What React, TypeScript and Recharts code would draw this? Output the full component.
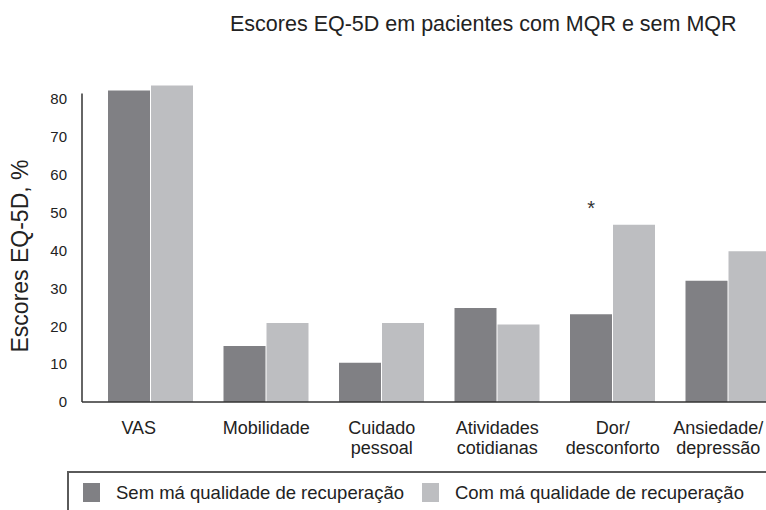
import React from 'react';
import { BarChart, Bar, XAxis, YAxis, Legend, ReferenceLine, ReferenceDot, Label } from 'recharts';

const categories = ['VAS', 'Mobilidade', 'Cuidado\npessoal', 'Atividades\ncotidianas', 'Dor/\ndesconforto', 'Ansiedade/\ndepressão'];
const semMQR = [82.3, 14.8, 10.4, 24.8, 23.2, 32.0];
const comMQR = [83.6, 20.9, 20.9, 20.5, 46.8, 39.8];
const seriesNames = ['Sem má qualidade de recuperação', 'Com má qualidade de recuperação'];
const yTicks = [0, 10, 20, 30, 40, 50, 60, 70, 80];
const title = 'Escores EQ-5D em pacientes com MQR e sem MQR';
const yLabel = 'Escores EQ-5D, %';
const starCategory = 'Dor/\ndesconforto';
const starLevel = 52;
const yAxisTop = 81.5;

const DARK = '#808084';
const LIGHT = '#bdbec1';
const INK = '#222';
const FONT = '"Liberation Sans", Arial, Helvetica, sans-serif';

// the original nudges its first and last category labels
const labelShift = [-12, 0, 0, 0, 0, -10];

const data = categories.map((cat, i) => ({ cat, sem: semMQR[i], com: comMQR[i] }));

const CategoryTick = (props: any) => {
  const { x, y, payload, index } = props;
  const lines = String(payload.value).split('\n');
  const tx = x + (labelShift[index] || 0);
  return (
    <text x={tx} y={y} textAnchor="middle" fill={INK} fontSize={18}>
      {lines.map((l, i) => (
        <tspan key={i} x={tx} dy={i === 0 ? 0 : 20}>{l}</tspan>
      ))}
    </text>
  );
};

const renderLegend = (props: any) => {
  const items = [...(props.payload || [])].sort(
    (a: any, b: any) => seriesNames.indexOf(a.value) - seriesNames.indexOf(b.value)
  );
  return (
    <div style={{
      borderTop: '2px solid #5a5a5a', borderLeft: '2px solid #5a5a5a', height: 60,
      boxSizing: 'border-box', display: 'flex', alignItems: 'flex-start', paddingLeft: 14, paddingTop: 10,
    }}>
      {items.map((entry: any, i: number) => (
        <div key={i} style={{ display: 'flex', alignItems: 'center', marginRight: 18 }}>
          <span style={{ display: 'inline-block', width: 17, height: 19, background: entry.color, marginRight: 16 }} />
          <span style={{ fontSize: 18.5, color: INK, lineHeight: '19px', whiteSpace: 'nowrap' }}>{entry.value}</span>
        </div>
      ))}
    </div>
  );
};

export default function App() {
  return (
    <div style={{ position: 'absolute', left: 0, top: 0, width: 766, height: 510, overflow: 'hidden', fontFamily: FONT, background: '#fff' }}>
      <div style={{ position: 'absolute', left: 230, top: 14, fontSize: 21.5, lineHeight: '21px', color: INK, whiteSpace: 'nowrap' }}>
        {title}
      </div>
      <BarChart width={800} height={510} data={data} barGap={1} margin={{ top: 84, right: 14, left: 42, bottom: 48 }}>
        <XAxis
          dataKey="cat"
          height={60}
          interval={0}
          tickLine={false}
          tickMargin={26}
          axisLine={{ stroke: '#333', strokeWidth: 1.5 }}
          padding={{ left: 11, right: 0 }}
          tick={<CategoryTick />}
        />
        <XAxis xAxisId="frame" type="number" domain={[0, 1]} allowDataOverflow hide />
        <YAxis
          domain={[0, 84]}
          ticks={yTicks}
          width={40}
          axisLine={false}
          tickLine={false}
          tickMargin={9}
          tick={{ fill: INK, fontSize: 15 }}
        >
          <Label
            content={(p: any) => {
              const vb = p.viewBox;
              const cx = vb.x - 22;
              const cy = vb.y + vb.height / 2 + 13;
              return (
                <text x={cx} y={cy} transform={`rotate(-90 ${cx} ${cy})`} textAnchor="middle" dominantBaseline="central" fill={INK} fontSize={23}>
                  {yLabel}
                </text>
              );
            }}
          />
        </YAxis>
        <ReferenceLine xAxisId="frame" segment={[{ x: 0, y: 0 }, { x: 0, y: yAxisTop }]} stroke="#333" strokeWidth={1.5} />
        <Bar dataKey="sem" name={seriesNames[0]} fill={DARK} barSize={42} isAnimationActive={false} />
        <Bar dataKey="com" name={seriesNames[1]} fill={LIGHT} barSize={42} isAnimationActive={false} />
        <ReferenceDot
          x={starCategory}
          y={starLevel}
          r={0}
          shape={(p: any) => (
            <text x={p.cx - 21.5} y={p.cy + 10} textAnchor="middle" fontSize={20} fill="#333">*</text>
          )}
        />
        <Legend
          verticalAlign="middle"
          content={renderLegend}
          wrapperStyle={{ left: 67, top: 471, width: 740, height: 60 }}
        />
      </BarChart>
    </div>
  );
}
